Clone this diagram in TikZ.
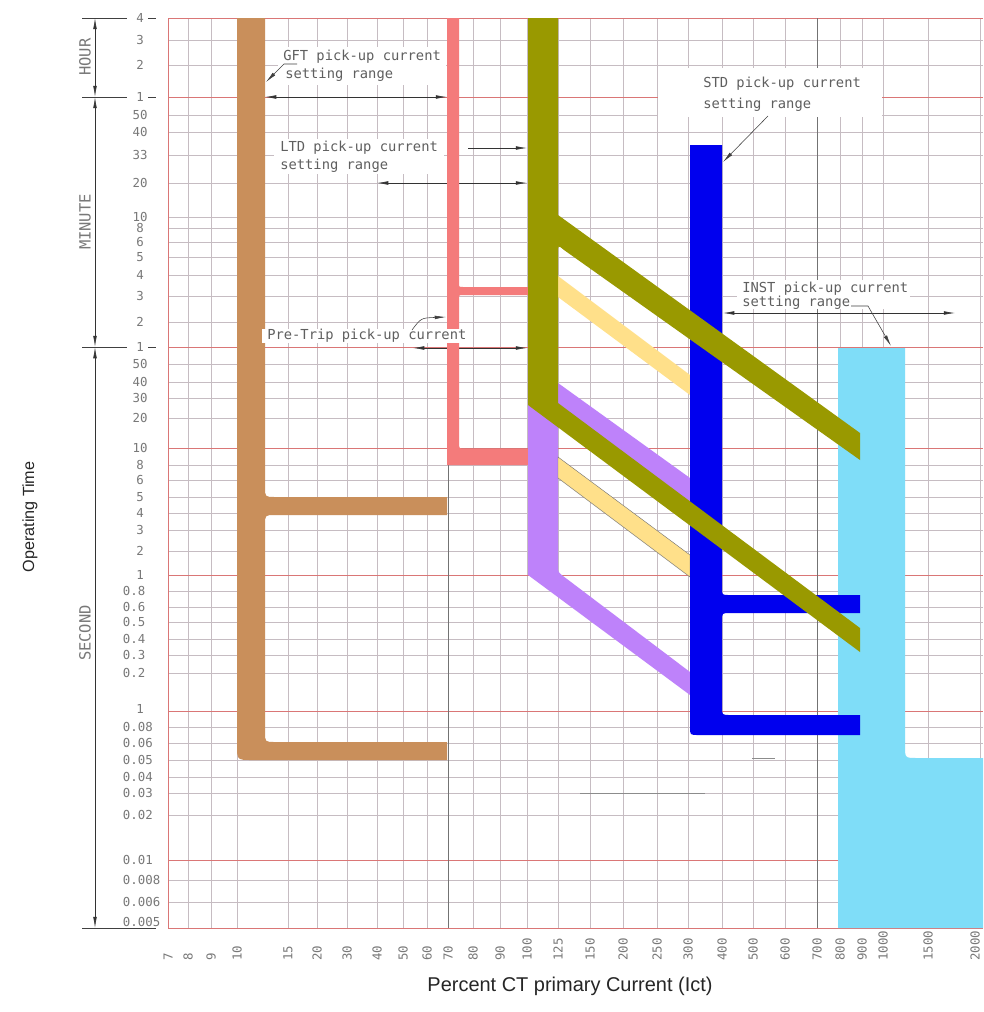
\documentclass[tikz,border=0pt]{standalone}
\usepackage{fontspec}
\setmainfont{Liberation Sans}
\newfontfamily\cadfont{DejaVu Sans Mono}
\usetikzlibrary{arrows.meta}

\definecolor{gftbrown}{RGB}{201,143,91}
\definecolor{ptpink}{RGB}{244,123,123}
\definecolor{ltdolive}{RGB}{153,153,0}
\definecolor{ltdpurple}{RGB}{190,130,250}
\definecolor{ltdyellow}{RGB}{255,224,138}
\definecolor{stdblue}{RGB}{0,0,238}
\definecolor{instcyan}{RGB}{127,221,248}
\definecolor{gridminor}{RGB}{198,188,194}
\definecolor{gridmajor}{RGB}{218,118,118}
\definecolor{cadgray}{RGB}{95,95,95}
\definecolor{tickgray}{RGB}{120,120,120}

\tikzset{
  minorline/.style={gridminor,line width=0.3pt},
  majorline/.style={gridmajor,line width=0.5pt},
  darkline/.style={black!55,line width=0.45pt},
  faintline/.style={black!45,line width=0.4pt},
  extline/.style={black!75,line width=0.45pt},
  dimline/.style={black!80,line width=0.45pt,<->},
  rangeline/.style={black!80,line width=0.45pt},
  leader/.style={black!75,line width=0.4pt,->},
  ticklabel/.style={font=\cadfont\fontsize{8.8}{9}\selectfont,text=tickgray,inner sep=0.5pt},
  xticklabel/.style={ticklabel,rotate=90,anchor=west,inner sep=0pt},
  sidelabel/.style={font=\cadfont\fontsize{11}{11}\selectfont,text=tickgray,rotate=90},
  caption/.style={font=\cadfont\fontsize{9.8}{10}\selectfont,text=cadgray,inner sep=0pt,anchor=west},
  axistitle/.style={text=black!85},
}

\begin{document}
\begin{tikzpicture}[x=0.25mm,y=-0.25mm,>={Latex[length=8pt,width=2.6pt]}]
\useasboundingbox (0,0) rectangle (983,1012);
\fill[white] (0,0) rectangle (983,1012);

\foreach \y in {40,65,115,132,155,183,217,228,242,257,275,296,322,364,382,398,418,465,480,497,513,530,551,591,607,622,639,655,673,727,743,760,777,793,815,880,902}
  \draw[minorline] (168,\y) -- (983,\y);
\foreach \x in {188,211,237,288,317,347,377,403,427,473,500,527,558,590,623,657,688,722,753,785,840,862,883,928,980}
  \draw[minorline] (\x,18) -- (\x,928);
\foreach \y in {18,97,347,448,575,711,860,928}
  \draw[majorline] (168,\y) -- (983,\y);
\draw[majorline] (168,18) -- (168,928);
\draw[darkline] (448,18) -- (448,928);
\draw[darkline] (817,18) -- (817,928);
\draw[faintline] (580,793) -- (705,793);
\draw[faintline] (752,758) -- (775,758);

\foreach \y/\t in {18/4,40/3,65/2,97/1,115/50,132/40,155/33,183/20,217/10,228/8,242/6,257/5,275/4,296/3,322/2,347/1,364/50,382/40,398/30,418/20,448/10,465/8,480/6,497/5,513/4,530/3,551/2,575/1,709/1}
  \node[ticklabel] (yt\y) at (140,\y) {\t};
\foreach \y/\t in {591/0.8,607/0.6,622/0.5,639/0.4,655/0.3,673/0.2,727/0.08,743/0.06,760/0.05,777/0.04,793/0.03,815/0.02,860/0.01,880/0.008,902/0.006,922/0.005}
  \node[ticklabel,anchor=west] (yd\y) at (122,\y) {\t};
\foreach \x/\t in {168/7,188/8,211/9,237/10,288/15,317/20,347/30,377/40,403/50,427/60,448/70,473/80,500/90,527/100,558/125,590/150,623/200,657/250,688/300,722/400,753/500,785/600,817/700,840/800,862/900,883/1000,928/1500,975/2000}
  \node[xticklabel] (xt\x) at (\x,961) {\t};

\foreach \y in {18,97,347}{
  \draw[extline] (82,\y) -- (127,\y);
  \draw[extline] (148,\y) -- (156,\y);
}
\draw[extline] (82,928) -- (156,928);
\coordinate (dimHour) at (95,18);
\coordinate (dimMin) at (95,97);
\coordinate (dimSec) at (95,347);
\coordinate (dimEnd) at (95,928);
\draw[dimline] (dimHour) -- (dimMin);
\draw[dimline] (dimMin) -- (dimSec);
\draw[dimline] (dimSec) -- (dimEnd);
\node[sidelabel] (hour) at (85,57) {HOUR};
\node[sidelabel] (minute) at (85,222) {MINUTE};
\node[sidelabel] (second) at (85,633) {SECOND};

\node[axistitle,rotate=90,font=\fontsize{11.5}{12}\selectfont] (ytitle) at (30,517) {Operating Time};
\node[axistitle,font=\fontsize{14.2}{15}\selectfont] (xtitle) at (570,986) {Percent CT primary Current (Ict)};

\coordinate (gftL) at (265,97);
\coordinate (gftR) at (447,97);
\draw[dimline] (gftL) -- (gftR);
\coordinate (ltdS) at (468,148);
\coordinate (ltdE) at (527,148);
\draw[rangeline,->] (ltdS) -- (ltdE);
\coordinate (ltdL) at (377,183);
\coordinate (ltdR) at (527,183);
\draw[dimline] (ltdL) -- (ltdR);
\coordinate (ptL) at (413,348);
\coordinate (ptR) at (527,348);
\draw[dimline] (ptL) -- (ptR);
\coordinate (stdL) at (688,113);
\coordinate (stdR) at (862,113);
\draw[dimline] (stdL) -- (stdR);
\coordinate (instL) at (723,313);
\coordinate (instR) at (955,313);
\draw[dimline] (instL) -- (instR);

\fill[instcyan] (838,348) -- (905,348) -- (905,746) .. controls (905,758) .. (917,758) -- (983,758) -- (983,928) -- (838,928) -- cycle;
\fill[gftbrown] (237,18) -- (265,18) -- (265,487) .. controls (265,497) .. (275,497) -- (447,497) -- (447,515) -- (275,515) .. controls (265,515) .. (265,525) -- (265,732) .. controls (265,742) .. (275,742) -- (447,742) -- (447,760) -- (252,760) .. controls (237,760) .. (237,745) -- cycle;
\fill[ptpink] (447,18) -- (459,18) -- (459,283) .. controls (459,287) .. (463,287) -- (528,287) -- (528,295) -- (463,295) .. controls (459,295) .. (459,299) -- (459,442) .. controls (459,449) .. (466,449) -- (528,449) -- (528,465) -- (447,465) -- cycle;
\fill[ltdpurple] (528,395) -- (558,383) -- (690,478) -- (690,515) -- (558,420) -- (558,566) .. controls (558,572) .. (563,576) -- (690,672) -- (690,695) -- (528,575) -- cycle;
\fill[ltdyellow] (558,276) -- (690,375) -- (690,395) -- (558,297) -- cycle;
\filldraw[fill=ltdyellow,draw=black!55,line width=0.3pt] (558,457) -- (690,555) -- (690,577) -- (558,478) -- cycle;
\fill[stdblue] (690,145) -- (722,145) -- (722,588) .. controls (722,595) .. (729,595) -- (860,595) -- (860,613) -- (730,613) .. controls (722,613) .. (722,621) -- (722,707) .. controls (722,715) .. (730,715) -- (860,715) -- (860,735) -- (698,735) .. controls (690,735) .. (690,727) -- cycle;
\fill[ltdolive] (528,18) -- (558,18) -- (558,215) -- (860,433) -- (860,460) -- (564,250) .. controls (558,245) .. (558,253) -- (558,403) -- (860,628) -- (860,652) -- (528,405) -- cycle;

\fill[white] (278,47) rectangle (446,85);
\fill[white] (274,139) rectangle (444,174);
\fill[white] (262,329) rectangle (466,343);
\fill[white] (658,68) rectangle (882,117);
\fill[white] (737,280) rectangle (910,309);
\node[caption] (gftA) at (283,57) {GFT pick-up current};
\node[caption] (gftB) at (285,75) {setting range};
\node[caption] (ltdA) at (280,148) {LTD pick-up current};
\node[caption] (ltdB) at (280,166) {setting range};
\node[caption] (ptA) at (267,336) {Pre-Trip pick-up current};
\node[caption] (stdA) at (703,84) {STD pick-up current};
\node[caption] (stdB) at (703,105) {setting range};
\node[caption] (instA) at (742,289) {INST pick-up current};
\node[caption] (instB) at (742,303) {setting range};

\coordinate (gftLead) at (297,64);
\coordinate (gftKnee) at (284,64);
\coordinate (gftTip) at (266,82);
\draw[leader] (gftLead) -- (gftKnee) -- (gftTip);
\coordinate (ptLead) at (412,330);
\coordinate (ptTip) at (446,317);
\draw[leader] (ptLead) .. controls (421,318) .. (ptTip);
\coordinate (stdLead) at (768,116);
\coordinate (stdTip) at (723,162);
\draw[leader] (stdLead) -- (stdTip);
\coordinate (instLead) at (851,306);
\coordinate (instKnee) at (868,306);
\coordinate (instTip) at (891,346);
\draw[leader] (instLead) -- (instKnee) -- (instTip);
\end{tikzpicture}
\end{document}
